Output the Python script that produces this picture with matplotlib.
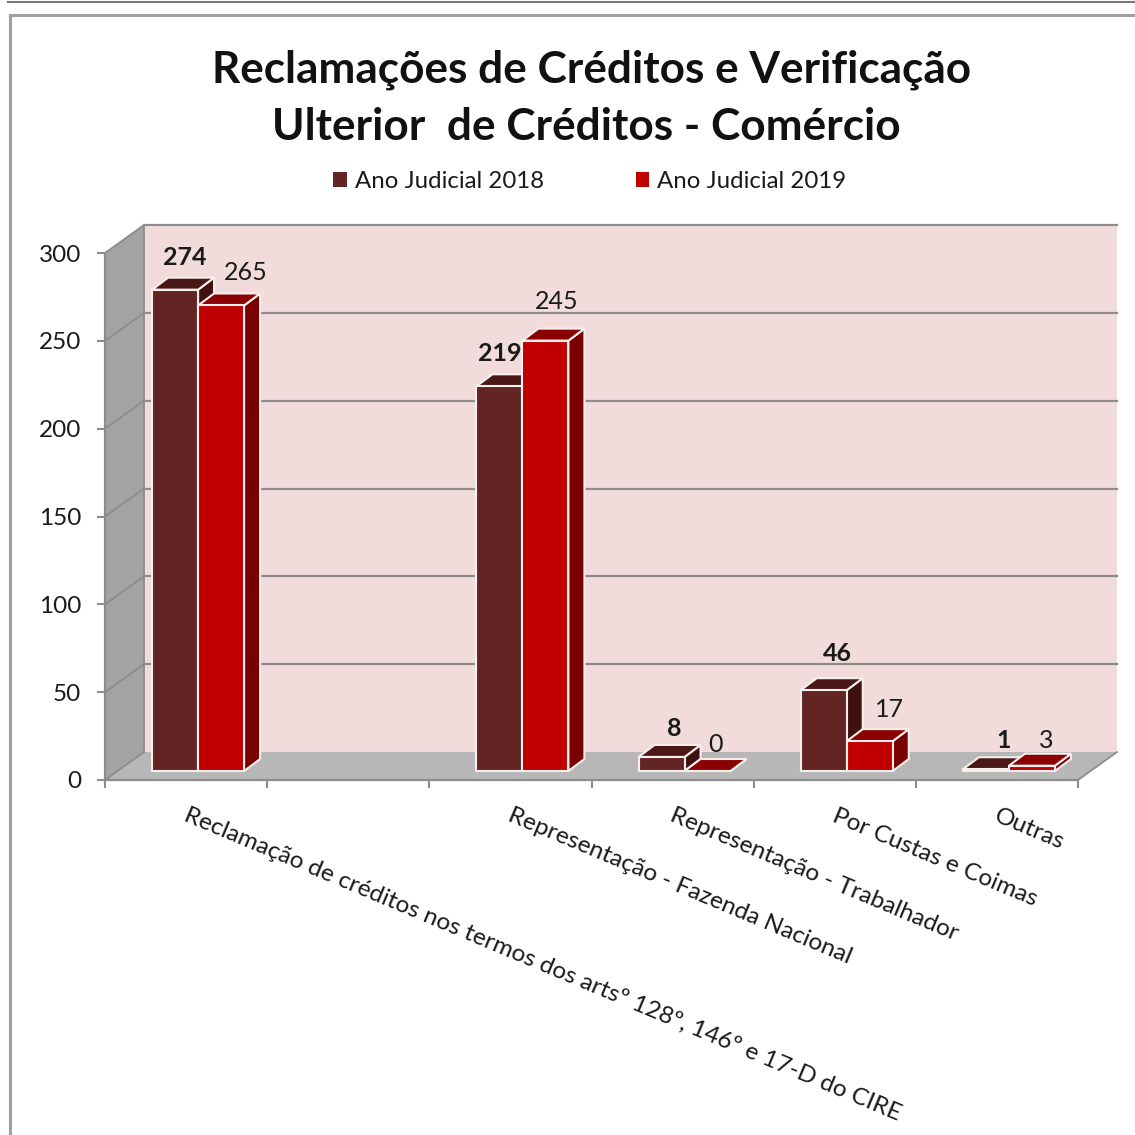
import matplotlib
matplotlib.use("Agg")
import matplotlib.pyplot as plt
from matplotlib.patches import Patch, Polygon
from matplotlib.lines import Line2D
from matplotlib.transforms import Affine2D

plt.rcParams['font.family'] = ['Lato', 'DejaVu Sans']

# dados
categorias = ["Reclamação de créditos nos termos dos artsº 128º, 146º e 17-D do CIRE", "",
              "Representação - Fazenda Nacional", "Representação - Trabalhador",
              "Por Custas e Coimas", "Outras"]
ano_2018 = [274, None, 219, 8, 46, 1]
ano_2019 = [265, None, 245, 0, 17, 3]
y_ticks = [0, 50, 100, 150, 200, 250, 300]

# deslocamento dos rotulos em pixels (x, y) em relacao ao topo da barra
desl_2018 = [(10, 32), None, (0, 33), (13, 28), (14, 37), (18, 29)]
desl_2019 = [(25, 33), None, (11, 39), (8, 27), (20, 32), (14, 25)]

cor_2018 = ("#632523", "#4a1917", "#3f1210")
cor_2019 = ("#c00000", "#8b0000", "#7a0000")

W = 1135
fig = plt.figure(figsize=(W / 100, W / 100), dpi=100, facecolor="white")
ax = fig.add_axes([105 / W, 1 - 780 / W, 973 / W, 527 / W])
ax.set_xlim(0, 6)
ax.set_ylim(0, 300)
ax.patch.set_visible(False)

px_x = 6 / 973
px_y = 300 / 527


# ponto em coordenadas de dados com profundidade em pixels
def prof(x, y, dx, dy):
    return (x + dx * px_x, y + dy * px_y)


fundo_dx, fundo_dy = 39, 28
fundo = [prof(0, 0, fundo_dx, fundo_dy), prof(6, 0, fundo_dx, fundo_dy),
         prof(6, 300, fundo_dx, fundo_dy), prof(0, 300, fundo_dx, fundo_dy)]
ax.add_patch(Polygon(fundo, facecolor="#f2dcdb", edgecolor="none", clip_on=False, zorder=0.2))
lateral = [(0, 0), (0, 300), fundo[3], fundo[0]]
ax.add_patch(Polygon(lateral, facecolor="#a3a3a3", edgecolor="none", clip_on=False, zorder=0.3))
chao = [(0, 0), (6, 0), fundo[1], fundo[0]]
ax.add_patch(Polygon(chao, facecolor="#b7b7b7", edgecolor="none", clip_on=False, zorder=0.3))

# grade
for v in y_ticks[1:]:
    a = prof(0, v, fundo_dx, fundo_dy)
    b = prof(6, v, fundo_dx, fundo_dy)
    ax.plot([a[0], b[0]], [a[1], b[1]], color="#8c8c8c", lw=1.6, clip_on=False, zorder=0.4)
    ax.plot([0, a[0]], [v, a[1]], color="#8c8c8c", lw=1.3, clip_on=False, zorder=0.4)
ax.plot([0, fundo[0][0]], [0, fundo[0][1]], color="#8c8c8c", lw=1.3, clip_on=False, zorder=0.4)
ax.plot([6, fundo[1][0]], [0, fundo[1][1]], color="#8c8c8c", lw=1.3, clip_on=False, zorder=0.4)
ax.plot([fundo[0][0], fundo[0][0]], [fundo[0][1], fundo[3][1]], color="#8c8c8c", lw=1.3,
        clip_on=False, zorder=0.4)

larg = 46 * px_x
f_dx, f_dy = 12, 9    # frente da barra
t_dx, t_dy = 28, 21   # fundo da barra


def barra(x0, v, cores):
    x1 = x0 + larg
    base = f_dy * px_y
    d = (t_dx - f_dx, t_dy - f_dy)
    lado = [(x1, base), (x1, base + v), prof(x1, base + v, *d), prof(x1, base, *d)]
    topo = [(x0, base + v), (x1, base + v), prof(x1, base + v, *d), prof(x0, base + v, *d)]
    ax.add_patch(Polygon(lado, facecolor=cores[2], edgecolor="#f7eeee", lw=1.5, zorder=3, clip_on=False))
    ax.add_patch(Polygon(topo, facecolor=cores[1], edgecolor="#f7eeee", lw=1.5, zorder=3, clip_on=False))
    ax.bar(x0, v, larg, bottom=base, align="edge", color=cores[0], edgecolor="#f7eeee",
           linewidth=1.5, zorder=3, clip_on=False)


def rotulo(x0, v, desl, bold):
    ax.annotate(str(v), (x0 + larg / 2, f_dy * px_y + v), xytext=(desl[0] * 0.72, desl[1] * 0.72),
                textcoords="offset points", ha="center", va="center", fontsize=18,
                fontweight="bold" if bold else "normal", color="#1a1a1a", zorder=5,
                annotation_clip=False)


for i in range(len(categorias)):
    if ano_2018[i] is None:
        continue
    centro = i + 0.5 + f_dx * px_x
    x_a = centro - larg
    x_b = centro
    barra(x_a, ano_2018[i], cor_2018)
    barra(x_b, ano_2019[i], cor_2019)
    rotulo(x_a, ano_2018[i], desl_2018[i], True)
    rotulo(x_b, ano_2019[i], desl_2019[i], False)

# eixos
for s in ["top", "right"]:
    ax.spines[s].set_visible(False)
for s in ["left", "bottom"]:
    ax.spines[s].set_color("#8c8c8c")
    ax.spines[s].set_linewidth(1.6)
ax.set_yticks(y_ticks)
ax.tick_params(axis="y", length=6, width=1.5, color="#8c8c8c", labelsize=17.5, pad=11, labelcolor="#1a1a1a")
ax.set_xticks(range(7))
ax.set_xticklabels([])
ax.tick_params(axis="x", which="major", length=6, width=1.5, color="#8c8c8c")
ax.set_xticks([i + 0.5 for i in range(6)], minor=True)
ax.set_xticklabels(categorias, minor=True)
ax.tick_params(axis="x", which="minor", length=0, pad=18, labelsize=17.6, labelcolor="#1a1a1a")
for t in ax.get_xticklabels(minor=True):
    t.set_rotation(-22.8)
    t.set_rotation_mode("anchor")
    t.set_ha("left")
    t.set_va("top")
    t.set_transform(t.get_transform() + Affine2D().translate(3, 0))

# titulo e legenda
fig.text(591.5 / W, 1 - 70 / W, "Reclamações de Créditos e Verificação", ha="center", va="center",
         fontsize=31.8, fontweight="bold", color="#111111")
fig.text(586 / W, 1 - 127 / W, "Ulterior  de Créditos - Comércio", ha="center", va="center",
         fontsize=31.8, fontweight="bold", color="#111111")
handles = [Patch(facecolor=cor_2018[0], label="Ano Judicial 2018"),
           Patch(facecolor=cor_2019[0], label="Ano Judicial 2019")]
fig.legend(handles=handles, loc="center", bbox_to_anchor=(590 / W, 1 - 181.5 / W), ncol=2, frameon=False,
           fontsize=17.3, handlelength=0.55, handleheight=0.55, handletextpad=0.33, columnspacing=3.85,
           labelcolor="#1a1a1a")

# moldura
fig.add_artist(Line2D([8 / W, 1], [1 - 1.5 / W, 1 - 1.5 / W], color="#777777", lw=1.5))
fig.add_artist(Line2D([9.5 / W, 1], [1 - 15 / W, 1 - 15 / W], color="#a0a0a0", lw=2.2))
fig.add_artist(Line2D([9.5 / W, 9.5 / W], [0, 1 - 15 / W], color="#a0a0a0", lw=2.2))

fig.savefig("out.png", dpi=100, facecolor="white")
